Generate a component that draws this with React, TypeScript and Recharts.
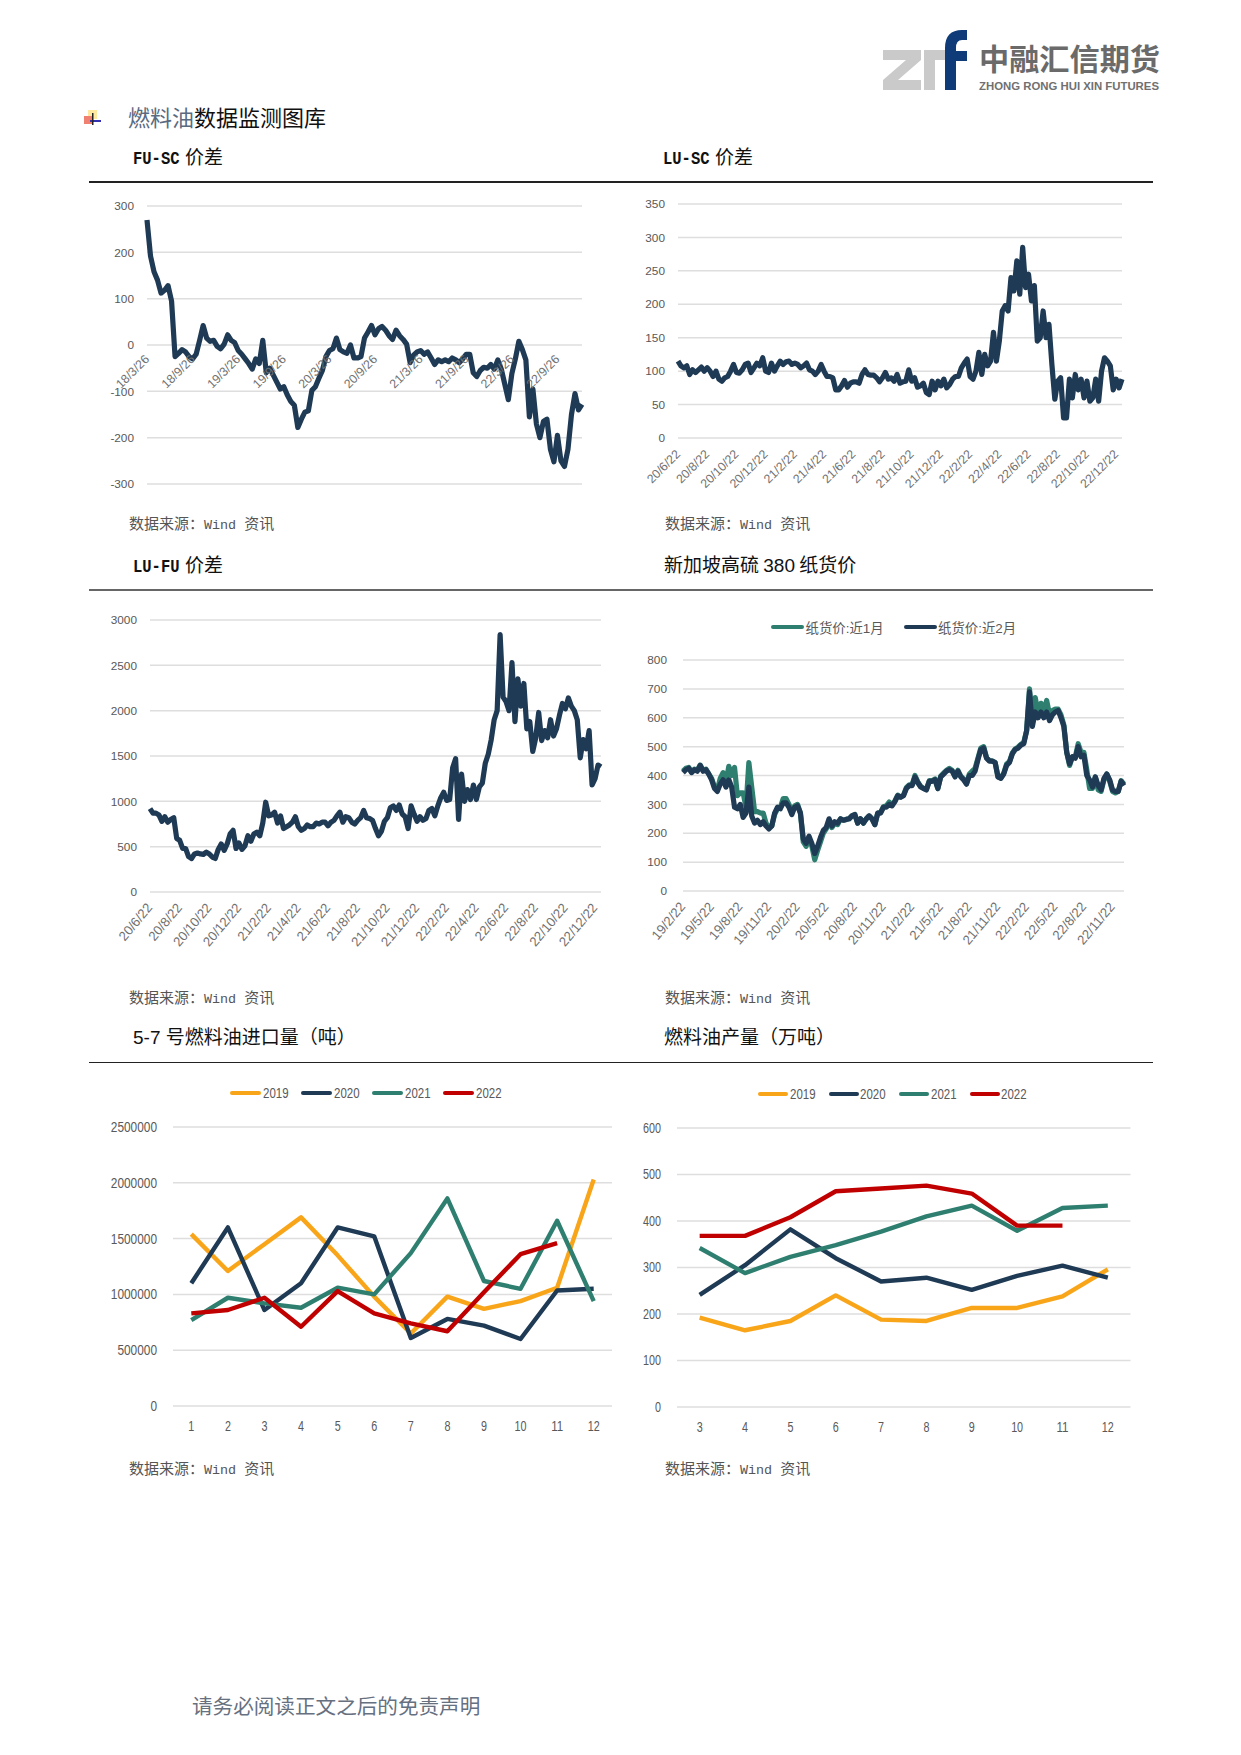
import React from 'react';
import { LineChart, Line, XAxis, YAxis, CartesianGrid, Legend } from 'recharts';

const AXIS_FONT = '"Liberation Sans", sans-serif';
const CJK_FONT = '"Noto Sans CJK SC", sans-serif';
const MONO_FONT = '"Liberation Mono", "Noto Sans CJK SC", monospace';

const NAVY = '#1f3a54';
const TEAL = '#2f7f70';
const ORANGE = '#f9a51a';
const RED = '#c00000';
const GRID = '#dedede';

// one row per tick interval
const fuScValues = [
  270, 192, 158, 140, 112, 118, 128, 95, -25, -18, -10, -15, -25,
  -30, -20, 10, 42, 15, 8, 10, -3, -8, 2, 22, 10, 5,
  -12, -20, -30, -40, -52, -30, -40, 10, -60, -50, -65, -80, -95,
  -90, -108, -122, -130, -178, -160, -145, -142, -98, -90, -72, -55, -25,
  -12, -8, 15, -10, -15, -18, 0, -28, -28, -25, 15, 28, 42,
  22, 35, 40, 32, 20, 12, 32, 20, 12, 2, -38, -22, -15,
  -12, -20, -15, -28, -42, -32, -36, -32, -36, -28, -32, -38, -30,
  -20, -20, -60, -68, -55, -48, -50, -42, -52, -32, -52, -85, -118,
  -62, -30, 8, -10, -32, -155, -95, -170, -200, -165, -160, -225, -252,
  -195, -250, -262, -225, -150, -105, -140, -128,
];
const fuScLabels = ['18/3/26', '18/9/26', '19/3/26', '19/9/26', '20/3/26', '20/9/26', '21/3/26', '21/9/26', '22/3/26', '22/9/26'];
const fuScTicks = [-300, -200, -100, 0, 100, 200, 300];

const luScValues = [
  115, 108, 105, 108, 95, 102, 98, 102, 106, 100,
  105, 100, 92, 100, 88, 85, 90, 92, 100, 110,
  98, 97, 102, 110, 112, 98, 105, 112, 108, 120,
  100, 98, 112, 100, 108, 115, 110, 114, 115, 110,
  112, 110, 105, 108, 112, 102, 100, 95, 100, 110,
  100, 92, 92, 90, 72, 72, 78, 86, 76, 82,
  84, 84, 82, 95, 102, 95, 94, 94, 90, 84,
  90, 98, 88, 90, 85, 95, 82, 84, 85, 102,
  85, 90, 76, 78, 82, 68, 65, 85, 72, 85,
  78, 88, 75, 80, 88, 92, 92, 105, 112, 118,
  92, 88, 100, 128, 95, 125, 108, 115, 158, 115,
  145, 190, 198, 190, 240, 220, 265, 215, 285, 225,
  245, 205, 228, 145, 150, 190, 150, 170, 110, 58,
  85, 90, 30, 30, 88, 60, 95, 72, 88, 60,
  85, 55, 60, 88, 55, 100, 120, 115, 108, 72,
  88, 75, 88,
];
const luScTicks = [0, 50, 100, 150, 200, 250, 300, 350];

const luFuValues = [
  920, 870, 870, 850, 780, 830, 770, 800, 820, 590,
  570, 480, 480, 390, 370, 420, 430, 420, 415, 440,
  420, 385, 370, 470, 530, 460, 530, 640, 680, 480,
  540, 470, 510, 620, 560, 640, 660, 620, 760, 990,
  840, 850, 880, 760, 840, 700, 720, 740, 770, 830,
  720, 680, 700, 740, 720, 720, 760, 750, 770, 770,
  730, 770, 790, 840, 880, 770, 830, 820, 770, 750,
  790, 820, 900, 820, 810, 790, 700, 620, 670, 780,
  820, 930, 950, 900, 960, 860, 830, 700, 950, 860,
  780, 830, 790, 810, 900, 920, 840, 950, 1040, 1100,
  1010, 1020, 1370, 1470, 800, 1300, 1000, 1130, 1020, 1180,
  1020, 1160, 1200, 1420, 1520, 1680, 1900, 2000, 2840, 2150,
  2100, 2000, 2530, 1880, 2350, 2050, 2300, 1800, 1880, 1550,
  1700, 1980, 1670, 1780, 1700, 1900, 1720, 1800, 1950, 2080,
  2020, 2140, 2050, 2000, 1900, 1480, 1680, 1580, 1780, 1180,
  1250, 1400, 1380,
];
const bimonthLabels = ['20/6/22', '20/8/22', '20/10/22', '20/12/22', '21/2/22', '21/4/22', '21/6/22', '21/8/22', '21/10/22', '21/12/22', '22/2/22', '22/4/22', '22/6/22', '22/8/22', '22/10/22', '22/12/22'];
const luFuTicks = [0, 500, 1000, 1500, 2000, 2500, 3000];

const paperNear1 = [
  415, 425, 428, 412, 422, 418, 436, 418, 422, 405,
  390, 360, 350, 390, 410, 375, 432, 400, 428, 330,
  340, 340, 290, 445, 360, 275, 275, 270, 270, 235,
  220, 225, 265, 285, 290, 320, 320, 300, 275, 295,
  300, 270, 170, 155, 180, 155, 108, 140, 170, 200,
  215, 240, 220, 235, 230, 250, 245, 248, 250, 260,
  265, 235, 250, 235, 250, 260, 250, 230, 270, 272,
  292, 295, 308, 298, 312, 332, 325, 332, 358, 368,
  368, 400, 378, 362, 355, 352, 382, 382, 388, 355,
  398, 408, 418, 425, 418, 398, 418, 398, 388, 372,
  405, 415, 425, 460, 495, 500, 462, 452, 450, 445,
  395, 392, 408, 440, 448, 478, 492, 498, 508, 515,
  555, 700, 590, 670, 615, 650, 625, 660, 610, 625,
  630, 630, 610, 575, 480, 435, 465, 465, 510, 480,
  480, 420, 355, 355, 395, 350, 345, 385, 405, 380,
  345, 340, 345, 382, 370,
];
const paperNear2 = [
  410, 420, 425, 410, 420, 415, 435, 415, 420, 405,
  385, 355, 345, 370, 385, 360, 385, 360, 290, 285,
  300, 255, 270, 360, 260, 235, 245, 230, 240, 225,
  215, 225, 270, 290, 285, 305, 305, 290, 265, 290,
  295, 270, 180, 165, 190, 165, 130, 155, 185, 210,
  220, 250, 225, 240, 235, 250, 245, 248, 250, 260,
  265, 235, 250, 235, 250, 260, 250, 230, 270, 270,
  290, 290, 300, 295, 310, 330, 325, 330, 355, 365,
  365, 395, 375, 360, 355, 350, 380, 380, 385, 355,
  395, 405, 415, 420, 415, 395, 415, 395, 385, 370,
  400, 400, 415, 455, 490, 495, 460, 450, 450, 445,
  395, 390, 405, 435, 445, 475, 490, 495, 505, 510,
  555, 690, 570, 620, 600, 620, 600, 620, 590, 610,
  620, 625, 600, 570, 480, 440, 465, 460, 500, 465,
  470, 400, 385, 360, 395, 365, 350, 390, 405, 385,
  350, 345, 345, 380, 365,
];
const paperLabels = ['19/2/22', '19/5/22', '19/8/22', '19/11/22', '20/2/22', '20/5/22', '20/8/22', '20/11/22', '21/2/22', '21/5/22', '21/8/22', '21/11/22', '22/2/22', '22/5/22', '22/8/22', '22/11/22'];
const paperTicks = [0, 100, 200, 300, 400, 500, 600, 700, 800];

const importMonths = ['1', '2', '3', '4', '5', '6', '7', '8', '9', '10', '11', '12'];
const import2019 = [1540000, 1210000, 1450000, 1690000, 1350000, 980000, 650000, 980000, 870000, 940000, 1060000, 2030000];
const import2020 = [1100000, 1600000, 860000, 1100000, 1600000, 1520000, 610000, 780000, 720000, 600000, 1035000, 1050000];
const import2021 = [770000, 970000, 920000, 880000, 1060000, 1000000, 1370000, 1860000, 1120000, 1050000, 1660000, 940000];
const import2022 = [830000, 860000, 970000, 710000, 1030000, 830000, 740000, 670000, 1020000, 1360000, 1460000];
const importTicks = [0, 500000, 1000000, 1500000, 2000000, 2500000];

const outputMonths = ['3', '4', '5', '6', '7', '8', '9', '10', '11', '12'];
const output2019 = [192, 165, 185, 240, 188, 185, 213, 213, 238, 296];
const output2020 = [241, 305, 382, 320, 270, 278, 252, 282, 304, 278];
const output2021 = [342, 288, 323, 348, 377, 410, 433, 379, 428, 433];
const output2022 = [368, 368, 408, 464, 470, 476, 459, 390, 390];
const outputTicks = [0, 100, 200, 300, 400, 500, 600];

const yearSeries = ['2019', '2020', '2021', '2022'];
const yearColors = [ORANGE, NAVY, TEAL, RED];

const indexed = (...series: number[][]) =>
  series[0].map((_, i) => {
    const row: Record<string, number> = { i };
    series.forEach((s, k) => {
      row[`s${k}`] = s[i];
    });
    return row;
  });

const byMonth = (months: string[], series: number[][]) =>
  months.map((m, i) => {
    const row: Record<string, string | number | undefined> = { m };
    series.forEach((s, k) => {
      row[`s${k}`] = s[i];
    });
    return row;
  });

// rotated date label, lift moves it up from the bottom of the plot
const DateTick = ({ x, y, payload, labels, step, lift, angle, size }: any) => {
  const px = x + 3;
  const py = y - lift;
  return (
    <text x={px} y={py} textAnchor="end" fontFamily={AXIS_FONT} fontSize={size} fill="#707070" transform={`rotate(${angle} ${px} ${py})`}>
      {labels[payload.value / step]}
    </text>
  );
};

// the reference's digits are condensed, and no narrow font is installed
const NarrowTick = ({ x, y, payload, anchor, dy, digit }: any) => {
  const label = String(payload.value);
  return (
    <text
      x={x}
      y={y}
      dy={dy}
      textAnchor={anchor}
      fontFamily={AXIS_FONT}
      fontSize={14}
      fill="#595959"
      textLength={label.length * digit}
      lengthAdjust="spacingAndGlyphs"
    >
      {label}
    </text>
  );
};

const PLOT_LEFT_ROOM = 80;
const PLOT_TOP_ROOM = 10;
const PLOT_BOTTOM_ROOM = 70;

const DailyChart = ({ left, top, width, height, data, names, colors, domain, yTicks, labels, step, lift, angle = -45, size = 12.3, gap = 13, legend }: any) => {
  const ticks = labels.map((_: string, k: number) => k * step);
  const topRoom = legend ? legend.room : PLOT_TOP_ROOM;
  return (
    <div style={{ position: 'absolute', left: left - PLOT_LEFT_ROOM, top: top - topRoom }}>
      <LineChart
        width={width + PLOT_LEFT_ROOM + 10}
        height={height + topRoom + PLOT_BOTTOM_ROOM}
        data={data}
        margin={{ top: legend ? 0 : PLOT_TOP_ROOM, right: 10, bottom: 0, left: 0 }}
      >
        <CartesianGrid vertical={false} stroke={GRID} strokeWidth={1.5} />
        <XAxis
          dataKey="i"
          type="number"
          domain={[0, data.length - 1]}
          ticks={ticks}
          interval={0}
          height={PLOT_BOTTOM_ROOM}
          axisLine={false}
          tickLine={false}
          tickSize={0}
          tickMargin={0}
          tick={(props: any) => <DateTick {...props} labels={labels} step={step} lift={lift} angle={angle} size={size} />}
        />
        <YAxis
          type="number"
          domain={domain}
          ticks={yTicks}
          interval={0}
          width={PLOT_LEFT_ROOM}
          axisLine={false}
          tickLine={false}
          tickSize={0}
          tickMargin={gap}
          tick={{ fontFamily: AXIS_FONT, fontSize: 11.8, fill: '#595959' }}
        />
        {legend ? <Legend verticalAlign="top" align="left" height={topRoom} content={legend.content} /> : null}
        {names.map((name: string, k: number) => (
          <Line
            key={name}
            dataKey={`s${k}`}
            name={name}
            type="linear"
            stroke={colors[k]}
            strokeWidth={5.2}
            strokeLinejoin="round"
            dot={false}
            isAnimationActive={false}
          />
        ))}
      </LineChart>
    </div>
  );
};

const YearChart = ({ left, top, width, height, data, domain, yTicks, digit, legend }: any) => (
  <div style={{ position: 'absolute', left: left - PLOT_LEFT_ROOM, top: top - legend.room }}>
    <LineChart
      width={width + PLOT_LEFT_ROOM + 10}
      height={height + legend.room + 40}
      data={data}
      margin={{ top: 0, right: 10, bottom: 0, left: 0 }}
    >
      <CartesianGrid vertical={false} stroke={GRID} strokeWidth={1.5} />
      <XAxis
        dataKey="m"
        scale="band"
        interval={0}
        height={40}
        axisLine={false}
        tickLine={false}
        tickSize={0}
        tickMargin={15}
        tick={(props: any) => <NarrowTick {...props} anchor="middle" dy="0.71em" digit={6} />}
      />
      <YAxis
        type="number"
        domain={domain}
        ticks={yTicks}
        interval={0}
        width={PLOT_LEFT_ROOM}
        axisLine={false}
        tickLine={false}
        tickSize={0}
        tickMargin={16}
        tick={(props: any) => <NarrowTick {...props} anchor="end" dy="0.35em" digit={digit} />}
      />
      <Legend verticalAlign="top" align="left" height={legend.room} content={legend.content} />
      {yearSeries.map((name, k) => (
        <Line
          key={name}
          dataKey={`s${k}`}
          name={name}
          type="linear"
          stroke={yearColors[k]}
          strokeWidth={4.4}
          strokeLinejoin="round"
          dot={false}
          isAnimationActive={false}
        />
      ))}
    </LineChart>
  </div>
);

const legendContent = (pad: number, center: number, lineW: number, textW: number, gapItems: number, size: number, squeeze: number) => ({ payload }: any) => (
  <div style={{ display: 'flex', paddingLeft: pad, paddingTop: center - 10, height: 20, alignItems: 'center', color: '#595959', fontFamily: `${AXIS_FONT.split(',')[0]}, "Noto Sans CJK SC"`, fontSize: size }}>
    {(payload || []).map((item: any) => (
      <div key={item.value} style={{ display: 'flex', alignItems: 'center', marginRight: gapItems }}>
        <span style={{ display: 'block', width: lineW, height: 4, borderRadius: 2, background: item.color, marginRight: 1.5 }} />
        <span style={{ display: 'block', width: textW, whiteSpace: 'nowrap', transform: `scaleX(${squeeze})`, transformOrigin: 'left center' }}>{item.value}</span>
      </div>
    ))}
  </div>
);

const Text = ({ x, cy, size, color = '#111', children }: any) => (
  <div
    style={{
      position: 'absolute',
      left: x,
      top: cy - 15,
      height: 30,
      lineHeight: '30px',
      whiteSpace: 'pre',
      fontFamily: CJK_FONT,
      fontSize: size,
      color,
    }}
  >
    {children}
  </div>
);

const monoStyle = (w: number): React.CSSProperties => ({
  display: 'inline-block',
  width: w,
  fontFamily: MONO_FONT,
  fontSize: 17.5,
  fontWeight: 700,
  transform: 'scale(0.885, 1)',
  transformOrigin: 'left center',
});

const Title = ({ x, cy, latin, sans, cjk }: any) => (
  <Text x={x} cy={cy} size={19}>
    {latin ? <span style={monoStyle(52)}>{latin}</span> : null}
    {sans ? <span style={{ fontFamily: AXIS_FONT }}>{sans} </span> : null}
    {cjk}
  </Text>
);

const Source = ({ x, cy }: any) => (
  <Text x={x} cy={cy} size={15} color="#555">
    数据来源：<span style={{ fontFamily: MONO_FONT, fontSize: 13.4 }}>Wind </span>资讯
  </Text>
);

const Rule = ({ y, color = '#222', h = 1.3 }: any) => (
  <div style={{ position: 'absolute', left: 89, top: y - h / 2, width: 1064, height: h, background: color }} />
);

const Logo = () => (
  <svg width={1241} height={130} style={{ position: 'absolute', left: 0, top: 0 }}>
    <path d="M883 50H921V60L898 80H921V90H883V80L906 60H883Z" fill="#cacaca" />
    <path d="M924 50H945V60H935V90H924Z" fill="#cacaca" />
    <path d="M945 90V48Q945 30 962 30H967V40H962Q956 40 956 48V51H967V61H956V90Z" fill="#0f3c78" />
    <text x={979} y={70} fontFamily={CJK_FONT} fontWeight={700} fontSize={30} fill="#6a6a6a" textLength={181} lengthAdjust="spacingAndGlyphs">
      中融汇信期货
    </text>
    <text x={979} y={90} fontFamily={AXIS_FONT} fontWeight={700} fontSize={10.5} fill="#707070" textLength={180} lengthAdjust="spacingAndGlyphs">
      ZHONG RONG HUI XIN FUTURES
    </text>
    <rect x={88} y={110} width={9} height={9} fill="#ffe9a0" />
    <rect x={84} y={116} width={8} height={8} fill="#f08070" />
    <rect x={90} y={120} width={11} height={2} fill="#3030b0" />
    <rect x={92} y={113} width={1.5} height={12} fill="#222" />
  </svg>
);

export default function App() {
  return (
    <div style={{ position: 'absolute', left: 0, top: 0, width: 1241, height: 1755, background: '#fff', overflow: 'hidden' }}>
      <Logo />
      <Text x={128} cy={116} size={22}>
        <span style={{ color: '#5a6a80' }}>燃料油</span>数据监测图库
      </Text>

      <Title x={133} cy={155.5} latin="FU-SC" cjk="价差" />
      <Title x={663} cy={155.5} latin="LU-SC" cjk="价差" />
      <Rule y={182} />
      <DailyChart left={147} top={206} width={435} height={278} data={indexed(fuScValues)} names={['FU-SC']} colors={[NAVY]} domain={[-300, 300]} yTicks={fuScTicks} labels={fuScLabels} step={13} lift={124} />
      <DailyChart left={678} top={204} width={444} height={234} data={indexed(luScValues)} names={['LU-SC']} colors={[NAVY]} domain={[0, 350]} yTicks={luScTicks} labels={bimonthLabels} step={10} lift={-17} />
      <Source x={129} cy={523} />
      <Source x={665} cy={523} />

      <Title x={133} cy={563.5} latin="LU-FU" cjk="价差" />
      <Title x={664} cy={563.5} cjk={<>新加坡高硫 <span style={{ fontFamily: AXIS_FONT }}>380</span> 纸货价</>} />
      <Rule y={590} color="#666" h={1.6} />
      <DailyChart left={150} top={620} width={451} height={272} data={indexed(luFuValues)} names={['LU-FU']} colors={[NAVY]} domain={[0, 3000]} yTicks={luFuTicks} labels={bimonthLabels} step={10} lift={-16} angle={-50} size={13.2} />
      <DailyChart
        left={683}
        top={660}
        width={441}
        height={231}
        data={indexed(paperNear1, paperNear2)}
        names={['纸货价:近1月', '纸货价:近2月']}
        colors={[TEAL, NAVY]}
        domain={[0, 800]}
        yTicks={paperTicks}
        labels={paperLabels}
        step={10}
        lift={-16}
        angle={-50}
        size={13.2}
        gap={16}
        legend={{ room: 50, content: legendContent(168, 17, 33, 78, 20, 13.4, 1) }}
      />
      <Source x={129} cy={996.5} />
      <Source x={665} cy={996.5} />

      <Title x={133} cy={1036} sans="5-7" cjk="号燃料油进口量（吨）" />
      <Title x={664} cy={1036} cjk="燃料油产量（万吨）" />
      <Rule y={1062.5} />
      <YearChart
        left={173}
        top={1127}
        width={439}
        height={279}
        data={byMonth(importMonths, [import2019, import2020, import2021, import2022])}
        domain={[0, 2500000]}
        yTicks={importTicks}
        digit={6.6}
        legend={{ room: 50, content: legendContent(137, 16, 31, 25.5, 13, 14, 0.82) }}
      />
      <YearChart
        left={676.5}
        top={1128}
        width={453.5}
        height={279}
        data={byMonth(outputMonths, [output2019, output2020, output2021, output2022])}
        domain={[0, 600]}
        yTicks={outputTicks}
        digit={6}
        legend={{ room: 50, content: legendContent(161.5, 16, 30, 25, 14, 14, 0.82) }}
      />
      <Source x={129} cy={1467.5} />
      <Source x={665} cy={1467.5} />

      <Text x={192} cy={1705} size={20.6} color="#66707f">
        请务必阅读正文之后的免责声明
      </Text>
    </div>
  );
}
